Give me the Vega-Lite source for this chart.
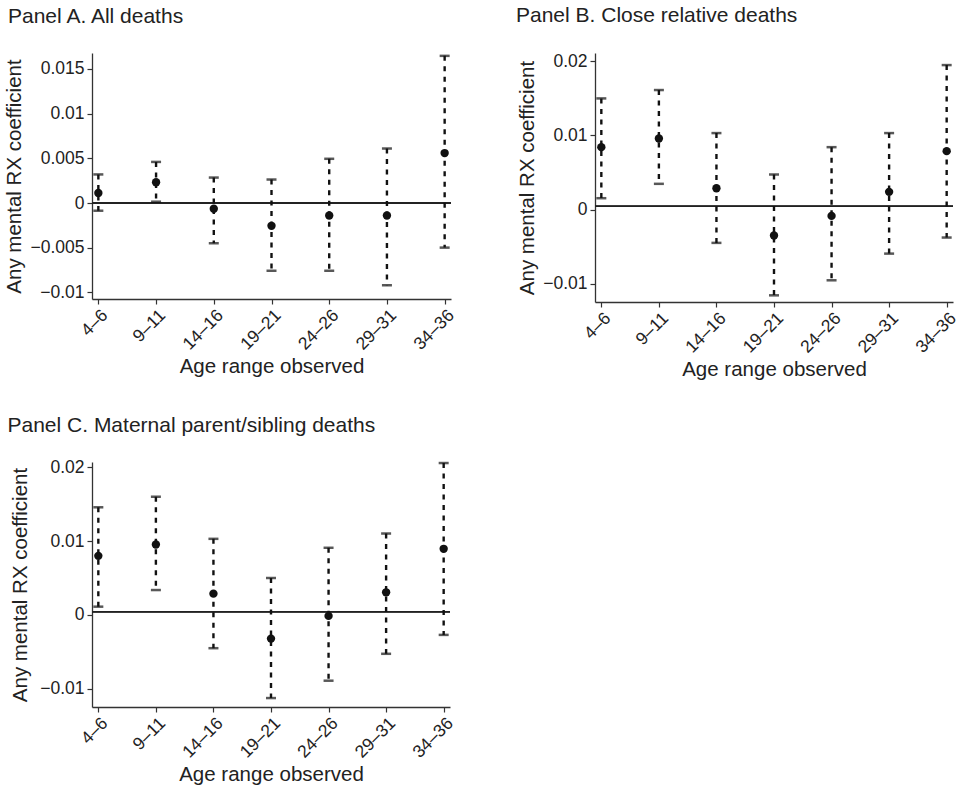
{
  "$schema": "https://vega.github.io/schema/vega-lite/v6.json",
  "background": "white",
  "padding": {"left": 4, "top": 5, "right": 0, "bottom": 5},
  "datasets": {
    "a": [
      {"age": "4–6", "coef": 0.00113, "lo": -0.00086, "hi": 0.0032},
      {"age": "9–11", "coef": 0.00233, "lo": 0.00015, "hi": 0.0046},
      {"age": "14–16", "coef": -0.00064, "lo": -0.0045, "hi": 0.00285},
      {"age": "19–21", "coef": -0.00255, "lo": -0.00758, "hi": 0.00263},
      {"age": "24–26", "coef": -0.00139, "lo": -0.00758, "hi": 0.00495},
      {"age": "29–31", "coef": -0.00139, "lo": -0.0092, "hi": 0.0061},
      {"age": "34–36", "coef": 0.00559, "lo": -0.00499, "hi": 0.01647}
    ],
    "b": [
      {"age": "4–6", "coef": 0.00842, "lo": 0.00153, "hi": 0.015},
      {"age": "9–11", "coef": 0.00959, "lo": 0.00347, "hi": 0.01613},
      {"age": "14–16", "coef": 0.00288, "lo": -0.0045, "hi": 0.01032},
      {"age": "19–21", "coef": -0.00351, "lo": -0.01158, "hi": 0.00473},
      {"age": "24–26", "coef": -0.00086, "lo": -0.00955, "hi": 0.00842},
      {"age": "29–31", "coef": 0.00239, "lo": -0.00595, "hi": 0.01032},
      {"age": "34–36", "coef": 0.00788, "lo": -0.00378, "hi": 0.0195}
    ],
    "c": [
      {"age": "4–6", "coef": 0.008, "lo": 0.00112, "hi": 0.01457},
      {"age": "9–11", "coef": 0.00954, "lo": 0.00337, "hi": 0.016},
      {"age": "14–16", "coef": 0.00288, "lo": -0.0045, "hi": 0.0103},
      {"age": "19–21", "coef": -0.0032, "lo": -0.01125, "hi": 0.005},
      {"age": "24–26", "coef": -0.00013, "lo": -0.0089, "hi": 0.00909},
      {"age": "29–31", "coef": 0.00306, "lo": -0.00526, "hi": 0.01102},
      {"age": "34–36", "coef": 0.00895, "lo": -0.0027, "hi": 0.02056}
    ]
  },
  "spacing": 34,
  "vconcat": [
    {
      "spacing": 58,
      "hconcat": [
        {
          "title": {"text": "Panel A. All deaths", "dx": -84},
          "width": 359,
          "height": 246,
          "data": {"name": "a"},
          "encoding": {
            "x": {"field": "age", "type": "ordinal", "sort": null, "scale": {"type": "point", "padding": 0.11}, "title": "Age range observed"},
            "y": {"type": "quantitative", "scale": {"domain": [-0.01074, 0.01679], "nice": false, "zero": false}, "axis": {"values": [-0.01, -0.005, 0, 0.005, 0.01, 0.015], "format": "~g", "title": "Any mental RX coefficient"}}
          },
          "layer": [
            {"mark": {"type": "rule", "color": "#222", "strokeWidth": 1.1}, "encoding": {"x": null, "y": {"datum": 0, "type": "quantitative"}}},
            {"mark": {"type": "rule", "color": "#111", "strokeWidth": 2.4, "strokeDash": [5, 5.5]}, "encoding": {"y": {"field": "hi", "type": "quantitative"}, "y2": {"field": "lo"}}},
            {"mark": {"type": "tick", "color": "#111", "size": 10, "thickness": 2.5}, "encoding": {"y": {"field": "hi", "type": "quantitative"}}},
            {"mark": {"type": "tick", "color": "#111", "size": 10, "thickness": 2.5}, "encoding": {"y": {"field": "lo", "type": "quantitative"}}},
            {"mark": {"type": "point", "filled": true, "shape": "circle", "size": 70, "color": "#111", "opacity": 1}, "encoding": {"y": {"field": "coef", "type": "quantitative"}}}
          ]
        },
        {
          "title": {"text": "Panel B. Close relative deaths", "dx": -79},
          "width": 358,
          "height": 249,
          "data": {"name": "b"},
          "encoding": {
            "x": {"field": "age", "type": "ordinal", "sort": null, "scale": {"type": "point", "padding": 0.11}, "title": "Age range observed"},
            "y": {"type": "quantitative", "scale": {"domain": [-0.01248, 0.02113], "nice": false, "zero": false}, "axis": {"values": [-0.01, 0, 0.01, 0.02], "format": "~g", "title": "Any mental RX coefficient"}}
          },
          "layer": [
            {"mark": {"type": "rule", "color": "#222", "strokeWidth": 1.1}, "encoding": {"x": null, "y": {"datum": 0.00045, "type": "quantitative"}}},
            {"mark": {"type": "rule", "color": "#111", "strokeWidth": 2.4, "strokeDash": [5, 5.5]}, "encoding": {"y": {"field": "hi", "type": "quantitative"}, "y2": {"field": "lo"}}},
            {"mark": {"type": "tick", "color": "#111", "size": 10, "thickness": 2.5}, "encoding": {"y": {"field": "hi", "type": "quantitative"}}},
            {"mark": {"type": "tick", "color": "#111", "size": 10, "thickness": 2.5}, "encoding": {"y": {"field": "lo", "type": "quantitative"}}},
            {"mark": {"type": "point", "filled": true, "shape": "circle", "size": 70, "color": "#111", "opacity": 1}, "encoding": {"y": {"field": "coef", "type": "quantitative"}}}
          ]
        }
      ]
    },
    {
      "title": {"text": "Panel C. Maternal parent/sibling deaths", "dx": -84.5, "offset": 22},
      "width": 358,
      "height": 245,
      "data": {"name": "c"},
      "encoding": {
        "x": {"field": "age", "type": "ordinal", "sort": null, "scale": {"type": "point", "padding": 0.11}, "title": "Age range observed"},
        "y": {"type": "quantitative", "scale": {"domain": [-0.01246, 0.0207], "nice": false, "zero": false}, "axis": {"values": [-0.01, 0, 0.01, 0.02], "format": "~g", "title": "Any mental RX coefficient", "titlePadding": 9}}
      },
      "layer": [
        {"mark": {"type": "rule", "color": "#222", "strokeWidth": 1.1}, "encoding": {"x": null, "y": {"datum": 0.00045, "type": "quantitative"}}},
        {"mark": {"type": "rule", "color": "#111", "strokeWidth": 2.4, "strokeDash": [5, 5.5]}, "encoding": {"y": {"field": "hi", "type": "quantitative"}, "y2": {"field": "lo"}}},
        {"mark": {"type": "tick", "color": "#111", "size": 10, "thickness": 2.5}, "encoding": {"y": {"field": "hi", "type": "quantitative"}}},
        {"mark": {"type": "tick", "color": "#111", "size": 10, "thickness": 2.5}, "encoding": {"y": {"field": "lo", "type": "quantitative"}}},
        {"mark": {"type": "point", "filled": true, "shape": "circle", "size": 70, "color": "#111", "opacity": 1}, "encoding": {"y": {"field": "coef", "type": "quantitative"}}}
      ]
    }
  ],
  "config": {
    "font": "Liberation Sans",
    "view": {"stroke": null},
    "axis": {"domainColor": "#333", "domainWidth": 1.3, "tickColor": "#333", "tickWidth": 1.2, "tickSize": 5, "labelPadding": 3, "labelFontSize": 17.5, "labelColor": "#222", "titleFontSize": 20.5, "titleFontWeight": "normal", "titleColor": "#222", "grid": false},
    "axisY": {"titlePadding": 5},
    "axisX": {"labelAngle": -45, "labelAlign": "right", "labelBaseline": "top", "labelPadding": 2, "titlePadding": 4},
    "title": {"anchor": "start", "frame": "group", "fontSize": 21, "fontWeight": "normal", "color": "#222", "offset": 26}
  }
}
